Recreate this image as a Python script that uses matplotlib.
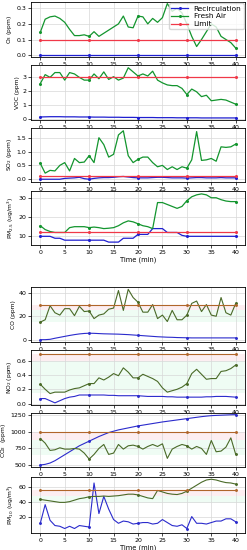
import numpy as np
import matplotlib
matplotlib.use("Agg")
from matplotlib import pyplot as plt

t = np.arange(41)

o3_fresh = [0.146, 0.23, 0.245, 0.25, 0.235, 0.21, 0.165, 0.125, 0.125, 0.13, 0.12,
            0.15, 0.12, 0.14, 0.16, 0.18, 0.2, 0.25, 0.18, 0.175, 0.25, 0.245, 0.2,
            0.235, 0.21, 0.24, 0.33, 0.28, 0.3, 0.27, 0.2, 0.12, 0.055, 0.1, 0.15,
            0.2, 0.18, 0.12, 0.1, 0.08, 0.045]
o3_recirc = [0.0] * 41
o3_limit = 0.1

voc_fresh = [2.55, 3.2, 3.0, 3.35, 3.35, 2.8, 3.35, 3.25, 3.0, 2.8, 2.8, 3.25, 2.9,
             3.4, 2.85, 3.05, 2.8, 2.95, 3.7, 3.4, 3.1, 3.25, 3.1, 3.45, 2.8, 2.6,
             2.45, 2.4, 2.4, 2.2, 1.75, 2.15, 1.95, 1.6, 1.7, 1.3, 1.35, 1.4, 1.35,
             1.2, 1.05]
voc_recirc = [0.12, 0.13, 0.14, 0.14, 0.14, 0.13, 0.13, 0.13, 0.12, 0.12, 0.12, 0.11,
              0.11, 0.11, 0.1, 0.1, 0.1, 0.09, 0.09, 0.09, 0.08, 0.08, 0.08, 0.08,
              0.07, 0.07, 0.07, 0.07, 0.06, 0.06, 0.06, 0.06, 0.06, 0.05, 0.05, 0.05,
              0.05, 0.05, 0.05, 0.05, 0.05]
voc_limit = 3.0

so2_fresh = [0.57, 0.22, 0.32, 0.3, 0.5, 0.6, 0.3, 0.75, 0.6, 0.62, 0.85, 0.6, 1.5,
             1.25, 0.8, 0.9, 1.6, 1.75, 0.85, 0.6, 0.72, 0.8, 0.8, 0.6, 0.45, 0.5,
             0.35, 0.45, 0.35, 0.45, 0.4, 0.7, 1.72, 0.68, 0.7, 0.75, 0.65, 1.17,
             1.15, 1.17, 1.27]
so2_recirc = [0.0, 0.0, 0.0, 0.0, 0.0, 0.03, 0.04, 0.05, 0.07, 0.02, 0.0, 0.03, 0.05,
              0.06, 0.06, 0.07, 0.09, 0.1, 0.08, 0.06, 0.05, 0.05, 0.05, 0.06, 0.07,
              0.07, 0.06, 0.05, 0.05, 0.05, 0.04, 0.05, 0.06, 0.06, 0.05, 0.05, 0.05,
              0.06, 0.05, 0.05, 0.05]
so2_limit = 0.13

pm25_fresh = [15.5, 13.5, 12.5, 12, 12, 12, 14.5, 15, 15, 15, 14.5, 14.8, 14.5, 14,
              14.2, 14.5, 15.5, 17, 18, 17.5, 16.5, 15.5, 15, 14, 27.5, 27.5, 26.5,
              25.5, 24.5, 25.5, 28.5, 30.5, 31.5, 32, 31.5, 30, 30, 29, 28.3, 28, 28]
pm25_recirc = [10, 10, 10, 9, 9, 8, 8, 8, 8, 8, 8, 8, 8, 8, 7, 7, 7, 9, 9, 9, 11, 11,
               11, 14, 14, 14, 12, 12, 12, 10.5, 10, 10, 10, 10, 10, 10, 10, 10, 10,
               10, 10]
pm25_limit = 12

co_fresh = [15, 17, 29, 23, 21, 26.5, 26.5, 20.5, 28.5, 24, 24.5, 18, 21, 22, 26, 27,
            42, 25, 43, 36, 32, 23.5, 23.5, 30, 18, 21, 15.5, 25, 17, 17, 21, 31, 33,
            24, 30, 21, 20, 36, 23, 21, 31]
co_recirc = [0, 0, 0.3, 1.2, 2.0, 2.8, 3.6, 4.3, 4.9, 5.3, 5.5, 5.4, 5.2, 5.0, 4.9,
             4.8, 4.7, 4.5, 4.3, 4.0, 3.7, 3.4, 3.1, 2.8, 2.5, 2.3, 2.1, 2.0, 1.8, 1.7,
             1.6, 1.5, 1.5, 1.5, 1.5, 1.5, 1.5, 1.5, 1.5, 1.5, 1.5]
co_limit = 30

no2_fresh = [0.27, 0.2, 0.14, 0.16, 0.16, 0.16, 0.19, 0.21, 0.22, 0.25, 0.28, 0.28,
             0.36, 0.33, 0.37, 0.42, 0.39, 0.5, 0.44, 0.36, 0.36, 0.41, 0.38, 0.35,
             0.31, 0.22, 0.16, 0.18, 0.2, 0.23, 0.28, 0.42, 0.48, 0.41, 0.34, 0.35,
             0.35, 0.45, 0.46, 0.49, 0.54]
no2_recirc = [0.07, 0.07, 0.04, 0.01, 0.04, 0.07, 0.09, 0.1, 0.12, 0.12, 0.12, 0.12,
              0.12, 0.12, 0.115, 0.115, 0.11, 0.11, 0.11, 0.11, 0.11, 0.105, 0.1,
              0.1, 0.1, 0.1, 0.095, 0.095, 0.09, 0.09, 0.09, 0.09, 0.09, 0.09, 0.095,
              0.095, 0.1, 0.1, 0.1, 0.095, 0.09]
no2_limit = 0.7

co2_fresh = [900, 830, 720, 730, 760, 740, 740, 750, 740, 680, 590, 660, 750, 810,
             660, 680, 810, 740, 790, 800, 780, 740, 780, 810, 780, 820, 600, 740,
             780, 810, 790, 740, 780, 750, 660, 870, 700, 710, 770, 910, 660]
co2_recirc = [500, 510, 530, 565, 610, 655, 700, 745, 790, 825, 860, 895, 930, 960,
              990, 1010, 1030, 1045, 1060, 1075, 1090, 1102, 1114, 1126, 1138, 1150,
              1160, 1170, 1180, 1190, 1200, 1210, 1220, 1230, 1238, 1245, 1249, 1252,
              1255, 1258, 1260]
co2_limit = 1000

pm10_fresh = [43, 42, 41, 40, 39, 39, 40, 42, 44, 45, 46.5, 47, 47, 47.5, 47, 47.5,
              48, 49, 50, 50, 49, 47, 45, 44, 55, 53, 51, 50, 49.5, 51, 54, 58, 62,
              66, 69, 70, 69, 67, 65.5, 65, 63.5]
pm10_recirc = [11, 36, 15, 8, 7, 4, 7, 4, 8, 7, 6, 65, 24, 47, 30, 16, 11, 14, 13, 10,
               11, 12, 12, 10, 11, 16, 12, 8, 7, 9, 4, 20, 11, 11, 10, 12, 14, 14, 17,
               17, 13]
pm10_limit = 55

top = [
    ("O$_3$ (ppm)", o3_recirc, o3_fresh, o3_limit, (-0.012, 0.34), [0.0, 0.1, 0.2, 0.3]),
    ("VOC (ppm)", voc_recirc, voc_fresh, voc_limit, (-0.1, 3.9), [0, 1, 2, 3]),
    ("SO$_2$ (ppm)", so2_recirc, so2_fresh, so2_limit, (-0.1, 1.85), [0.0, 0.5, 1.0, 1.5]),
    ("PM$_{2.5}$ (ug/m$^3$)", pm25_recirc, pm25_fresh, pm25_limit, (5.5, 33.5), [10, 20, 30]),
]
bottom = [
    ("CO (ppm)", co_recirc, co_fresh, co_limit, (-2, 45), [0, 20, 40], (15, 25, 30)),
    ("NO$_2$ (ppm)", no2_recirc, no2_fresh, no2_limit, (-0.02, 0.75), [0.0, 0.2, 0.4, 0.6], (0.15, 0.6, 0.7)),
    ("CO$_2$  (ppm)", co2_recirc, co2_fresh, co2_limit, (470, 1285), [500, 750, 1000, 1250], (650, 880, 1000)),
    ("PM$_{10}$ (ug/m$^3$)", pm10_recirc, pm10_fresh, pm10_limit, (-2, 73), [20, 40, 60], (38, 48, 55)),
]

plt.rcParams['font.size'] = 4.5
fig = plt.figure(figsize=(2.47, 5.5), dpi=100)

W, H = 247.0, 550.0
rows_top = [(2, 57), (65, 120), (128, 182), (191, 245)]
rows_bot = [(287, 342), (350, 405), (413, 467), (477, 533)]


def make_ax(t0, t1):
    return fig.add_axes([31 / W, 1 - t1 / H, 214 / W, (t1 - t0) / H])


def style(ax, label, ylim, yticks):
    ax.set_xlim(-1.9, 41.9)
    ax.set_ylim(*ylim)
    ax.set_yticks(yticks)
    ax.set_xticks([0, 5, 10, 15, 20, 25, 30, 35, 40])
    ax.set_ylabel(label, fontsize=4.3, labelpad=1.5)
    ax.tick_params(labelsize=4.5, length=2, width=0.5, pad=1.5)
    for s in ax.spines.values():
        s.set_linewidth(0.6)
    ax.grid(True, color='#d8d8d8', lw=0.5)


for i, (label, rec, fresh, lim, ylim, yt) in enumerate(top):
    ax = make_ax(*rows_top[i])
    ax.plot(t, rec, color='#1f1fd0', lw=0.9, marker='o', ms=1.2, markevery=10, label='Recirculation')
    ax.plot(t, fresh, color='#13952e', lw=0.9, marker='o', ms=1.2, markevery=10, label='Fresh Air')
    ax.plot(t, [lim] * len(t), color='#f03848', lw=0.9, marker='o', ms=1.2, markevery=10, label='Limit')
    style(ax, label, ylim, yt)
    if i == 0:
        ax.legend(loc='upper right', fontsize=5.3, handlelength=2.2, borderpad=0.3,
                  labelspacing=0.2, borderaxespad=0.2)
    if i == 3:
        ax.set_xlabel("Time (min)", fontsize=4.8, labelpad=1)

for i, (label, rec, fresh, lim, ylim, yt, bands) in enumerate(bottom):
    ax = make_ax(*rows_bot[i])
    ax.axhspan(bands[0], bands[1], color='#effcf4', lw=0, zorder=0)
    ax.axhspan(bands[1], bands[2], color='#fdeef1', lw=0, zorder=0)
    ax.plot(t, rec, color='#2b2bcc', lw=0.8, marker='o', ms=1.1, markevery=10)
    ax.plot(t, fresh, color='#4a6a28', lw=0.8, marker='o', ms=1.1, markevery=10)
    ax.plot(t, [lim] * len(t), color='#b0652a', lw=0.8, marker='o', ms=1.1, markevery=10)
    style(ax, label, ylim, yt)
    if i == 3:
        ax.set_xlabel("Time (min)", fontsize=4.8, labelpad=1)

fig.savefig("out.png", dpi=100)
